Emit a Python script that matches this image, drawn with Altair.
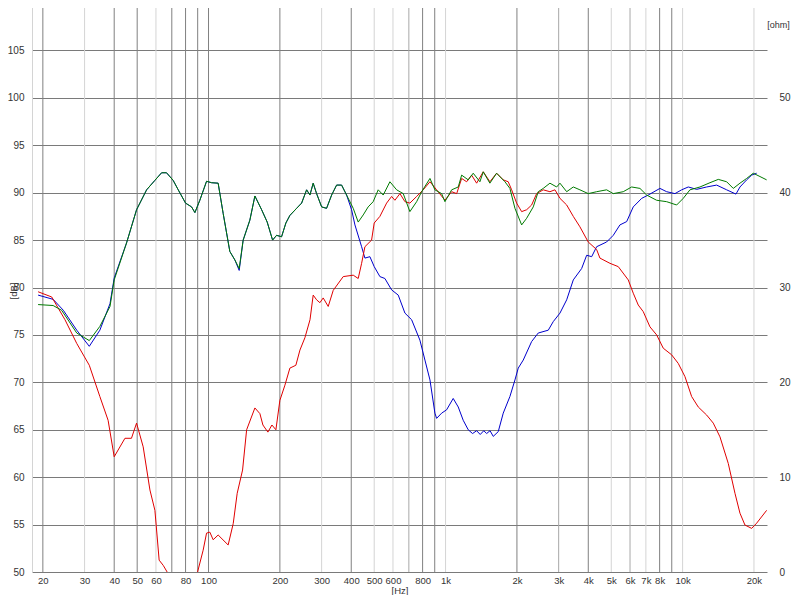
import altair as alt
import pandas as pd

# ---------------- data ----------------
green_hz = [19.1, 22.1, 24.0, 27.8, 31.4, 34.8, 38.4, 40.0, 45.1, 49.7, 54.8, 59.4, 63.4, 66.5,
            70.9, 74.5, 80.0, 84.8, 87.6, 91.9, 98.1, 103, 109.8, 115.3, 123, 129.2, 134.7, 140,
            149.4, 156.9, 167.5, 176.8, 186.3, 193.7, 203.3, 212, 220.4, 235.3, 247, 259.3, 267.8,
            276.4, 285.7, 300, 314.8, 330.6, 347, 364.3, 382.3, 407.8, 428, 449.3, 471.5, 495,
            519.8, 545.7, 582.4, 621.7, 662.9, 707, 755, 792.6, 859.3, 901.7, 962.5, 993.8, 1061,
            1131, 1169, 1246, 1308, 1396, 1442, 1538, 1642, 1780, 1868, 1962, 2094, 2198, 2344,
            2460, 2582, 2756, 2942, 3038, 3243, 3458, 3688, 3998, 4338, 4780, 5098, 5618, 6095,
            6607, 7052, 7771, 8564, 9438, 10064, 10740, 11838, 13044, 14142, 15340, 16358, 17458,
            18630, 19864, 21200, 22620]
green_db = [78.2, 78.1, 77.6, 75.2, 74.4, 75.9, 78.0, 80.8, 84.7, 88.2, 90.3, 91.3, 92.1, 92.1,
            91.3, 90.3, 88.9, 88.5, 87.9, 89.2, 91.2, 91.05, 91.0, 87.8, 83.8, 82.9, 82.0, 85.0,
            87.1, 89.65, 88.2, 86.9, 85.0, 85.5, 85.35, 86.8, 87.6, 88.35, 88.9, 90.3, 89.75,
            91.0, 89.9, 88.5, 88.35, 89.75, 90.8, 90.8, 89.75, 88.35, 86.9, 87.65, 88.5, 89.05,
            90.3, 89.75, 91.15, 90.3, 89.9, 88.0, 89.05, 90.1, 91.5, 90.3, 89.9, 89.05, 90.3,
            90.6, 91.85, 91.35, 92.05, 91.15, 92.2, 91.0, 92.05, 91.15, 90.45, 88.35, 86.6, 87.3, 88.5,
            90.1, 90.45, 91.0, 90.6, 91.0, 90.1, 90.6, 90.3, 89.9, 90.1, 90.3, 89.9, 90.1, 90.6,
            90.45, 89.75, 89.2, 89.05, 88.7, 89.4, 90.3, 90.6, 91.05, 91.4, 91.15, 90.45, 91.0,
            91.5, 92.05, 91.7, 91.35]

blue_hz = [19.1, 22.1, 24.4, 27.8, 31.4, 34.8, 38.4, 40.0, 45.1, 49.7, 54.8, 59.4, 63.4, 66.5,
           70.9, 74.5, 80.0, 84.8, 87.6, 91.9, 98.1, 103, 109.8, 115.3, 123, 129.2, 134.7, 140,
           149.4, 156.9, 167.5, 176.8, 186.3, 193.7, 203.3, 212, 220.4, 235.3, 247, 259.3, 267.8,
           276.4, 285.7, 300, 314.8, 330.6, 347, 364.3, 382.3, 401.4, 414.6, 442.4, 456.8, 479.5,
           500, 528.4, 554.6, 592, 631.4, 673.8, 719.2, 779.3, 818.3, 859.3, 901.7, 916.7, 962.5,
           1010, 1077, 1131, 1187, 1246, 1300, 1352, 1400, 1450, 1490, 1540, 1589, 1668, 1751,
           1868, 1962, 2026, 2127, 2307, 2460, 2712, 2846, 3038, 3243, 3458, 3750, 3938, 4134,
           4338, 4780, 5098, 5440, 5808, 6192, 6720, 7162, 8024, 8564, 9284, 9908, 10566, 11464,
           12630, 13920, 15340, 16790, 17458, 18630, 19558, 20530]
blue_db = [79.2, 78.75, 77.6, 75.5, 73.8, 75.5, 78.3, 81.0, 84.7, 88.2, 90.3, 91.3, 92.1, 92.1,
           91.3, 90.3, 88.9, 88.5, 87.9, 89.2, 91.2, 91.05, 91.0, 87.8, 83.8, 82.9, 81.8, 85.0,
           87.1, 89.65, 88.2, 86.9, 85.0, 85.5, 85.35, 86.8, 87.6, 88.35, 88.9, 90.3, 89.75,
           91.0, 89.9, 88.5, 88.35, 89.75, 90.8, 90.8, 89.75, 88.2, 86.6, 84.3, 83.1, 83.25,
           82.2, 81.15, 80.95, 79.75, 79.2, 77.3, 76.6, 74.45, 72.35, 70.25, 66.75, 66.2, 66.75,
           67.1, 68.3, 67.4, 66.0, 65.0, 64.6, 64.9, 64.5, 64.9, 64.6, 64.9, 64.3, 64.8, 66.75,
           68.5, 70.25, 71.5, 72.35, 74.3, 75.2, 75.5, 76.4, 77.3, 78.7, 80.8, 82.0, 83.4, 83.25,
           84.3, 84.8, 85.5, 86.6, 86.95, 88.5, 89.4, 89.75, 90.45, 90.1, 89.9, 90.3, 90.6, 90.35,
           90.6, 90.8, 90.3, 89.85, 90.6, 91.35, 91.85, 92.05]

red_hz = [19.1, 21.8, 24.8, 27.8, 31.4, 34.8, 37.7, 40.0, 44.4, 47.3, 49.7, 53.0, 56.6, 59.4,
          61.9, 64.4, 66.9, 72, 84, 89.9, 94.9, 98.1, 101.3, 104.6, 109.8, 121, 127.1, 132.1,
          139.2, 144.8, 156.9, 164.7, 169.6, 178, 185.1, 192.4, 200, 210, 220.4, 233.6, 243, 255,
          268, 276.4, 285.7, 295, 304.6, 319.8, 335.8, 370, 407.8, 428, 442.4, 456.8, 487.4, 500,
          528.4, 564, 592, 611.4, 641.8, 673.8, 707, 755, 804.9, 859.3, 916.7, 993.8, 1061, 1114,
          1169, 1227, 1288, 1352, 1442, 1538, 1642, 1751, 1838, 1900, 1994, 2094, 2198, 2307,
          2422, 2582, 2756, 2894, 3038, 3243, 3458, 3688, 3998, 4338, 4479, 4938, 5352, 5898,
          6192, 6500, 6824, 7282, 7771, 8286, 8990, 9584, 10232, 10918, 11642, 12630, 13470,
          14376, 15580, 16632, 17458, 18324, 19558, 20530, 22620]
red_db = [79.55, 79.0, 76.6, 74.1, 71.8, 68.5, 66.0, 62.15, 64.1, 64.1, 65.7, 63.2, 58.65, 56.5,
          51.25, 50.7, 50.0, 46.5, 47.0, 50.0, 52.3, 54.1, 54.2, 53.4, 53.9, 52.85, 55.1, 58.3,
          60.75, 65.0, 67.3, 66.7, 65.5, 64.75, 65.5, 65.0, 68.1, 69.7, 71.5, 71.8, 73.4, 74.7,
          76.6, 79.2, 78.7, 78.4, 78.9, 78.0, 79.7, 81.15, 81.3, 80.95, 82.55, 84.3, 85.0, 86.8,
          87.5, 88.9, 89.6, 89.2, 89.9, 89.05, 88.9, 89.6, 90.3, 91.15, 90.3, 89.2, 90.1, 89.9,
          91.5, 91.15, 91.85, 91.0, 92.2, 91.15, 92.05, 91.35, 91.15, 90.3, 88.9, 88.0, 88.2, 88.7,
          89.9, 90.3, 90.1, 90.3, 89.4, 88.7, 87.5, 86.4, 84.8, 84.0, 83.1, 82.55, 82.2, 80.8,
          79.4, 78.15, 77.45, 75.85, 75.0, 73.6, 72.9, 72.0, 70.6, 68.5, 67.4, 66.55, 65.7,
          64.25, 61.45, 58.3, 56.2, 54.95, 54.6, 55.15, 56.5]

# grid / tick definitions
grid_hz = [20, 30, 40, 50, 60, 70, 80, 90, 100, 200, 300, 400, 500, 600, 700, 800, 900,
           1000, 2000, 3000, 4000, 5000, 6000, 7000, 8000, 9000, 10000, 20000]
grid_shade = ["#808080", "#d4d4d4", "#808080", "#808080", "#d4d4d4", "#808080", "#808080",
              "#808080", "#808080", "#808080", "#d4d4d4", "#808080", "#d4d4d4", "#d4d4d4",
              "#a8a8a8", "#808080", "#808080", "#d4d4d4", "#808080", "#a8a8a8", "#808080",
              "#d4d4d4", "#a8a8a8", "#d4d4d4", "#808080", "#808080", "#d4d4d4", "#d4d4d4"]
x_ticks = [20, 30, 40, 50, 60, 80, 100, 200, 300, 400, 500, 600, 800, 1000, 2000, 3000, 4000,
           5000, 6000, 7000, 8000, 10000, 20000]
db_ticks = [50, 55, 60, 65, 70, 75, 80, 85, 90, 95, 100, 105, 110]
ohm_ticks = [0, 10, 20, 30, 40, 50]

FONT = "Liberation Sans"
W, H = 735, 569

xscale = alt.Scale(type="log", domain=[18, 22700], nice=False)
yscale = alt.Scale(domain=[50, 110], nice=False, zero=False)

xaxis = alt.Axis(values=x_ticks, grid=False, ticks=False, domain=False,
                 labelExpr="datum.value >= 1000 ? format(datum.value/1000, 'd') + 'k' : format(datum.value, 'd')",
                 labelPadding=3, labelFontSize=9.5, labelFont=FONT, labelColor="#333",
                 labelFlush=False, labelOverlap=False,
                 title="[Hz]", titleFontSize=9.5, titleFontWeight="normal", titleFont=FONT,
                 titleColor="#333", titleY=13, titleBaseline="top")
yaxis = alt.Axis(values=db_ticks, grid=True, gridColor="#7a7a7a", gridWidth=1,
                 ticks=False, domain=True, domainColor="#d4d4d4",
                 labelPadding=8, labelFontSize=10, labelFont=FONT, labelColor="#333",
                 title="[dB]", titleFontSize=9.5, titleFontWeight="normal", titleFont=FONT,
                 titleColor="#333", titleX=-19, titleY=H / 2 + 3, titleAngle=270,
                 titleAlign="center", titleBaseline="middle")

grid_df = pd.DataFrame({"f": grid_hz, "c": grid_shade})
grid = alt.Chart(grid_df).mark_rule(strokeWidth=1).encode(
    x=alt.X("f:Q", scale=xscale, axis=xaxis),
    color=alt.Color("c:N", scale=None),
)

def curve(hz, db, color):
    df = pd.DataFrame({"f": hz, "db": db})
    return alt.Chart(df).mark_line(color=color, strokeWidth=1, clip=True).encode(
        x=alt.X("f:Q", scale=xscale, axis=xaxis),
        y=alt.Y("db:Q", scale=yscale, axis=yaxis),
        order=alt.Order("f:Q"),
    )

lines = alt.layer(
    curve(blue_hz, blue_db, "#0000cc"),
    curve(red_hz, red_db, "#e00000"),
    curve(green_hz, green_db, "#007a00"),
)

ohm_df = pd.DataFrame({"ohm": ohm_ticks})
ohm = alt.Chart(ohm_df).mark_point(opacity=0).encode(
    y=alt.Y("ohm:Q", scale=alt.Scale(domain=[0, 60], nice=False),
            axis=alt.Axis(orient="right", values=ohm_ticks, grid=False, ticks=False,
                          domain=False, labelPadding=12, labelFontSize=10, labelFont=FONT,
                          labelColor="#333", labelAlign="left",
                          title="[ohm]", titleFontSize=9, titleFontWeight="normal",
                          titleFont=FONT, titleColor="#333", titleAngle=0,
                          titleX=11, titleY=21, titleAlign="center", titleBaseline="middle")),
)

chart = (
    alt.layer(grid, lines, ohm)
    .resolve_scale(y="independent")
    .properties(width=W, height=H,
                autosize=alt.AutoSizeParams(type="none"),
                padding={"left": 24, "top": -5, "right": 25, "bottom": 23},
                background="white")
    .configure_view(stroke=None)
)

chart.save("out.html", embed_options={"renderer": "svg", "actions": False})
